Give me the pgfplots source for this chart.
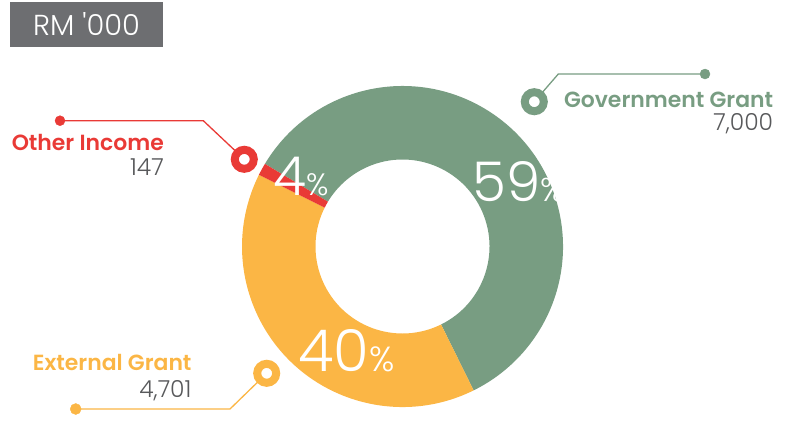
\documentclass[border=0pt]{standalone}
\usepackage{fontspec}
\setmainfont{Poppins}
\IfFontExistsTF{Poppins Light}{\newfontfamily\plight{Poppins Light}\newfontfamily\plightq{Poppins Light}[Ligatures=TeXOff]}{\newfontfamily\plight{Poppins}\newfontfamily\plightq{Poppins}[Ligatures=TeXOff]}
\IfFontExistsTF{Poppins ExtraLight}{\newfontfamily\pthin{Poppins ExtraLight}}{\let\pthin\plight}
\IfFontExistsTF{Poppins SemiBold}{\newfontfamily\psemi{Poppins SemiBold}}{\newfontfamily\psemi{Poppins}[FakeBold=1.5]}
\usepackage{pgfplots}
\pgfplotsset{compat=1.18}
\definecolor{cg}{HTML}{789D82}
\definecolor{co}{HTML}{FBB645}
\definecolor{cr}{HTML}{E93A36}
\definecolor{cbox}{HTML}{6D6E71}
\definecolor{ctxt}{HTML}{58595B}
% data (RM '000)
\def\vGov{7000}
\def\vExt{4701}
\def\vOth{147}
\pgfmathsetmacro\vTot{\vGov+\vExt+\vOth}
\pgfmathsetmacro\aA{149}
\pgfmathsetmacro\aB{\aA-360*(\vGov/\vTot)}
\pgfmathsetmacro\aC{\aB-360*(\vExt/\vTot)}
\pgfmathsetmacro\aD{\aC-360*(\vOth/\vTot)}
\def\cx{402.5}\def\cy{246.5}
\newcommand{\sector}[3]{%
  \fill[#1] ([shift={(#2:160.5bp)}]axis cs:\cx,\cy) arc[start angle=#2,end angle=#3,radius=160.5bp]
    -- ([shift={(#3:87bp)}]axis cs:\cx,\cy) arc[start angle=#3,end angle=#2,radius=87bp] -- cycle;}
\begin{document}
\begin{tikzpicture}
\begin{axis}[x=1bp,y=1bp,xmin=0,xmax=788,ymin=0,ymax=417,y dir=reverse,
  hide axis,clip=false,anchor=origin]
\path (axis cs:0,0) rectangle (axis cs:788,417);
% donut
\sector{cg}{\aA}{\aB}
\sector{co}{\aB}{\aC}
\sector{cr}{\aC}{\aD}
% percent labels
\node[anchor=base west,inner sep=0,text=white] at (axis cs:472.7,201.7)
  {\plight\fontsize{55}{55}\selectfont 59\fontsize{33}{33}\selectfont\%};
\node[anchor=base west,inner sep=0,text=white] at (axis cs:273.3,195)
  {\plight\fontsize{54}{54}\selectfont 4\fontsize{31}{31}\selectfont\%};
\node[anchor=base west,inner sep=0,text=white] at (axis cs:298,371.7)
  {\plight\fontsize{58}{58}\selectfont 40\fontsize{35}{35}\selectfont\%};
% leaders
\addplot[cr,line width=1.3bp,mark=none] coordinates {(60,120.7) (203.3,120.7) (244.3,159.3)};
\addplot[cg,line width=1.3bp,mark=none] coordinates {(705,74) (558.3,74) (534.3,101.7)};
\addplot[co,line width=1.3bp,mark=none] coordinates {(75.7,409) (230,409) (266.7,373.3)};
\addplot[cr,only marks,mark=*,mark size=5bp] coordinates {(60,120.7)};
\addplot[cg,only marks,mark=*,mark size=5bp] coordinates {(705,74)};
\addplot[co,only marks,mark=*,mark size=5.5bp] coordinates {(75.7,409)};
\addplot[cr,only marks,mark=*,mark size=9.5bp,line width=8bp,mark options={fill=white}] coordinates {(244.3,159.3)};
\addplot[cg,only marks,mark=*,mark size=9.5bp,line width=8bp,mark options={fill=white}] coordinates {(534.3,101.7)};
\addplot[co,only marks,mark=*,mark size=9.5bp,line width=8bp,mark options={fill=white}] coordinates {(266.7,373.3)};
% labels
\node[anchor=base east,inner sep=0,text=cr] at (axis cs:164,150)
  {\psemi\fontsize{22}{22}\selectfont Other Income};
\node[anchor=base east,inner sep=0,text=ctxt] at (axis cs:164,175)
  {\plight\fontsize{23.5}{23.5}\selectfont 147};
\node[anchor=base east,inner sep=0,text=cg] at (axis cs:773.3,107.3)
  {\psemi\fontsize{22}{22}\selectfont Government Grant};
\node[anchor=base east,inner sep=0,text=ctxt] at (axis cs:773.3,130)
  {\plight\fontsize{23.5}{23.5}\selectfont 7,000};
\node[anchor=base east,inner sep=0,text=co] at (axis cs:191.7,370)
  {\psemi\fontsize{22}{22}\selectfont External Grant};
\node[anchor=base east,inner sep=0,text=ctxt] at (axis cs:191.7,397)
  {\plight\fontsize{23.5}{23.5}\selectfont 4,701};
% unit box
\fill[cbox] (axis cs:10,2.3) rectangle (axis cs:163,46.7);
\node[anchor=base,inner sep=0,text=white] at (axis cs:86.5,35.7)
  {\plightq\fontsize{29}{29}\selectfont RM '000};
\end{axis}
\end{tikzpicture}
\end{document}
